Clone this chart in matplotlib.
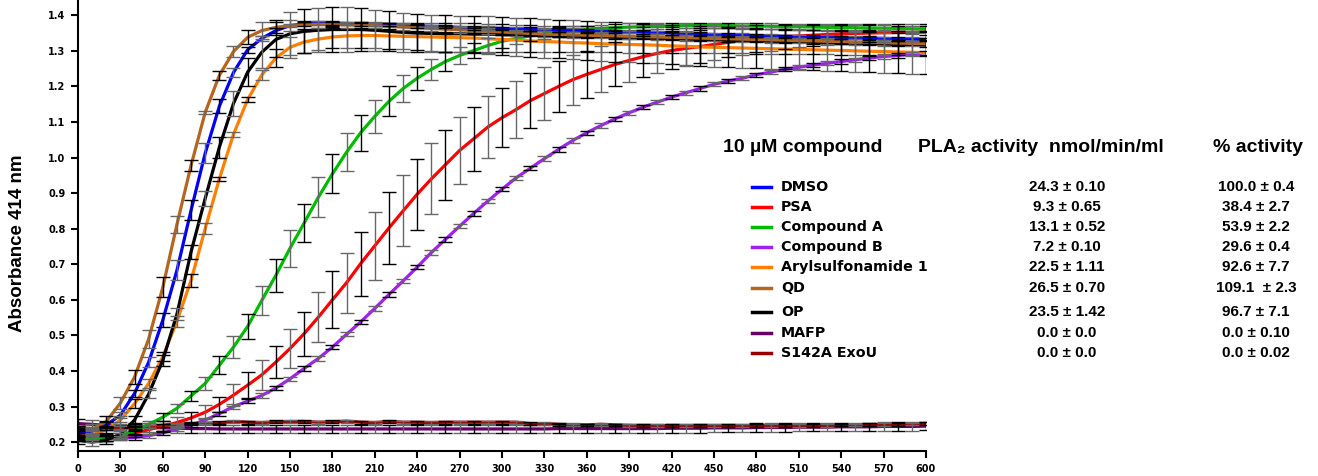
import matplotlib
matplotlib.use('Agg')
import matplotlib.pyplot as plt
from matplotlib.lines import Line2D

# Время (с) и средние значения поглощения при 414 нм
time_s = list(range(0, 601, 10))

dmso = [0.225, 0.231, 0.248, 0.276, 0.337, 0.425, 0.543, 0.683, 0.852, 1.012,
        1.144, 1.239, 1.303, 1.335, 1.357, 1.371, 1.376, 1.378, 1.378, 1.377,
        1.376, 1.375, 1.374, 1.372, 1.370, 1.369, 1.368, 1.366, 1.365, 1.364,
        1.363, 1.362, 1.361, 1.360, 1.359, 1.358, 1.357, 1.356, 1.355, 1.354,
        1.353, 1.352, 1.350, 1.349, 1.347, 1.346, 1.345, 1.344, 1.343, 1.342,
        1.341, 1.340, 1.340, 1.339, 1.338, 1.337, 1.336, 1.335, 1.334, 1.333,
        1.332]
dmso_sd = [0.008, 0.008, 0.008, 0.008, 0.010, 0.015, 0.019, 0.028, 0.028, 0.028,
           0.020, 0.012, 0.008, 0.006, 0.006] + [0.005] * 46

psa = [0.222, 0.215, 0.213, 0.215, 0.225, 0.235, 0.245, 0.255, 0.268, 0.284,
       0.306, 0.332, 0.360, 0.389, 0.425, 0.463, 0.505, 0.551, 0.600, 0.648,
       0.702, 0.752, 0.802, 0.850, 0.897, 0.940, 0.980, 1.020, 1.053, 1.086,
       1.112, 1.135, 1.160, 1.180, 1.200, 1.219, 1.234, 1.248, 1.262, 1.273,
       1.284, 1.293, 1.301, 1.307, 1.312, 1.318, 1.324, 1.329, 1.334, 1.337,
       1.340, 1.342, 1.344, 1.346, 1.348, 1.349, 1.350, 1.351, 1.352, 1.352,
       1.353]
psa_sd = [0.010, 0.010, 0.010, 0.010, 0.010, 0.012, 0.014, 0.016, 0.018, 0.020,
          0.022, 0.030, 0.036, 0.042, 0.046, 0.055, 0.062, 0.070, 0.080, 0.085,
          0.090, 0.095, 0.100, 0.100, 0.100, 0.100, 0.098, 0.095, 0.090, 0.087,
          0.083, 0.080, 0.078, 0.075, 0.072, 0.070, 0.067, 0.065, 0.062, 0.060,
          0.057, 0.055, 0.052, 0.050, 0.047, 0.045, 0.042, 0.040, 0.038, 0.036,
          0.034, 0.032, 0.030, 0.029, 0.028, 0.027, 0.026, 0.025, 0.024, 0.023,
          0.022]

comp_a = [0.210, 0.208, 0.212, 0.218, 0.232, 0.250, 0.270, 0.295, 0.330, 0.365,
          0.416, 0.467, 0.525, 0.598, 0.669, 0.745, 0.816, 0.888, 0.954, 1.015,
          1.070, 1.116, 1.158, 1.194, 1.223, 1.248, 1.270, 1.287, 1.301, 1.315,
          1.327, 1.335, 1.342, 1.348, 1.353, 1.357, 1.360, 1.363, 1.365, 1.367,
          1.368, 1.369, 1.370, 1.371, 1.371, 1.371, 1.371, 1.370, 1.370, 1.369,
          1.368, 1.368, 1.367, 1.366, 1.366, 1.365, 1.364, 1.364, 1.363, 1.362,
          1.362]
comp_a_sd = [0.008, 0.008, 0.008, 0.008, 0.010, 0.010, 0.012, 0.013, 0.015, 0.018,
             0.025, 0.030, 0.035, 0.040, 0.047, 0.052, 0.054, 0.056, 0.055, 0.054,
             0.051, 0.047, 0.042, 0.037, 0.033, 0.029, 0.026, 0.024, 0.022, 0.020,
             0.018, 0.016, 0.015, 0.014, 0.013, 0.012, 0.011, 0.010, 0.010, 0.010] + [0.008] * 21

comp_b = [0.215, 0.212, 0.210, 0.211, 0.213, 0.218, 0.226, 0.236, 0.248, 0.262,
          0.280, 0.300, 0.315, 0.331, 0.352, 0.378, 0.407, 0.435, 0.467, 0.503,
          0.538, 0.576, 0.615, 0.653, 0.692, 0.733, 0.770, 0.807, 0.843, 0.878,
          0.911, 0.943, 0.970, 0.997, 1.023, 1.048, 1.070, 1.090, 1.109, 1.126,
          1.142, 1.156, 1.170, 1.182, 1.194, 1.206, 1.215, 1.223, 1.233, 1.240,
          1.248, 1.254, 1.260, 1.265, 1.270, 1.275, 1.280, 1.284, 1.287, 1.291,
          1.295]
comp_b_sd = [0.006] * 61

aryl = [0.215, 0.220, 0.235, 0.262, 0.308, 0.365, 0.440, 0.540, 0.655, 0.800,
        0.940, 1.065, 1.163, 1.232, 1.280, 1.310, 1.325, 1.333, 1.339, 1.342,
        1.343, 1.343, 1.342, 1.341, 1.340, 1.339, 1.338, 1.337, 1.336, 1.334,
        1.332, 1.330, 1.328, 1.326, 1.325, 1.323, 1.322, 1.320, 1.319, 1.318,
        1.317, 1.316, 1.314, 1.313, 1.311, 1.310, 1.309, 1.308, 1.307, 1.306,
        1.305, 1.304, 1.303, 1.302, 1.301, 1.300, 1.299, 1.298, 1.297, 1.296,
        1.295]
aryl_sd = [0.010, 0.010, 0.010, 0.010, 0.012, 0.012, 0.012, 0.015, 0.018, 0.015,
           0.006, 0.006, 0.006, 0.015, 0.025, 0.030, 0.030, 0.030, 0.032, 0.033,
           0.034, 0.035, 0.036, 0.037, 0.038, 0.039, 0.040, 0.040, 0.041, 0.042,
           0.043, 0.044, 0.045, 0.045, 0.046, 0.047, 0.048, 0.048, 0.049, 0.050,
           0.050, 0.051, 0.052, 0.052, 0.053, 0.054, 0.054, 0.055, 0.055, 0.056,
           0.056, 0.057, 0.057, 0.058, 0.058, 0.059, 0.059, 0.060, 0.060, 0.060,
           0.060]

qd = [0.232, 0.236, 0.258, 0.310, 0.383, 0.490, 0.635, 0.812, 0.978, 1.127,
      1.231, 1.298, 1.338, 1.357, 1.366, 1.371, 1.373, 1.374, 1.374, 1.373,
      1.372, 1.371, 1.369, 1.367, 1.365, 1.363, 1.361, 1.359, 1.357, 1.355,
      1.353, 1.351, 1.349, 1.347, 1.346, 1.345, 1.344, 1.343, 1.342, 1.341,
      1.340, 1.339, 1.338, 1.337, 1.336, 1.335, 1.334, 1.333, 1.332, 1.331,
      1.330, 1.329, 1.328, 1.327, 1.326, 1.325, 1.324, 1.323, 1.322, 1.321,
      1.320]
qd_sd = [0.012, 0.015, 0.015, 0.018, 0.020, 0.025, 0.028, 0.025, 0.015, 0.005,
         0.012, 0.015, 0.020, 0.025, 0.022, 0.015, 0.012, 0.010] + [0.008] * 43

op = [0.205, 0.200, 0.206, 0.222, 0.262, 0.335, 0.430, 0.560, 0.735, 0.885,
      1.029, 1.152, 1.240, 1.296, 1.332, 1.348, 1.355, 1.358, 1.360, 1.360,
      1.360, 1.358, 1.355, 1.352, 1.350, 1.349, 1.348, 1.348, 1.347, 1.347,
      1.346, 1.345, 1.344, 1.343, 1.342, 1.341, 1.340, 1.339, 1.338, 1.337,
      1.336, 1.335, 1.334, 1.333, 1.332, 1.331, 1.330, 1.329, 1.328, 1.327,
      1.326, 1.325, 1.324, 1.323, 1.322, 1.321, 1.320, 1.319, 1.318, 1.317,
      1.316]
op_sd = [0.010, 0.010, 0.010, 0.010, 0.012, 0.012, 0.015, 0.018, 0.020, 0.020,
         0.030, 0.035, 0.040, 0.045, 0.050, 0.060, 0.062, 0.062, 0.062, 0.062,
         0.060, 0.058, 0.056, 0.055, 0.054, 0.053, 0.052, 0.051, 0.050, 0.050,
         0.049, 0.048, 0.047, 0.046, 0.045, 0.045, 0.044, 0.043, 0.042, 0.042,
         0.041, 0.040, 0.040, 0.039, 0.038, 0.038, 0.037, 0.036, 0.036, 0.035,
         0.035, 0.034, 0.034, 0.033, 0.033, 0.032, 0.032, 0.031, 0.031, 0.030,
         0.030]

mafp = [0.252, 0.250, 0.247, 0.245, 0.243, 0.241, 0.240, 0.239, 0.238, 0.238,
        0.237, 0.237, 0.237, 0.237, 0.237, 0.237, 0.237, 0.237, 0.237, 0.237,
        0.237, 0.237, 0.237, 0.237, 0.237, 0.237, 0.237, 0.237, 0.237, 0.237,
        0.237, 0.237, 0.237, 0.237, 0.238, 0.238, 0.238, 0.238, 0.238, 0.238,
        0.238, 0.238, 0.239, 0.239, 0.239, 0.240, 0.240, 0.240, 0.241, 0.241,
        0.241, 0.242, 0.242, 0.242, 0.243, 0.243, 0.243, 0.244, 0.244, 0.244,
        0.245]
mafp_sd = [0.012] * 61

s142a = [0.240, 0.238, 0.238, 0.240, 0.242, 0.244, 0.247, 0.250, 0.252, 0.253,
         0.254, 0.258, 0.256, 0.255, 0.257, 0.258, 0.258, 0.256, 0.257, 0.259,
         0.256, 0.255, 0.258, 0.256, 0.256, 0.255, 0.256, 0.256, 0.256, 0.256,
         0.256, 0.256, 0.252, 0.252, 0.250, 0.249, 0.248, 0.250, 0.248, 0.247,
         0.246, 0.246, 0.246, 0.246, 0.246, 0.246, 0.246, 0.246, 0.246, 0.246,
         0.246, 0.246, 0.247, 0.247, 0.248, 0.248, 0.249, 0.250, 0.250, 0.251,
         0.252]
s142a_sd = [0.004] * 61

labels = ['DMSO', 'PSA', 'Compound A', 'Compound B', 'Arylsulfonamide 1',
          'QD', 'OP', 'MAFP', 'S142A ExoU']
colors = ['#0000FF', '#FF0000', '#00BB00', '#A020F0', '#FF8000',
          '#B5651D', '#000000', '#660066', '#990000']
rate_txt = ['24.3 ± 0.10', '9.3 ± 0.65', '13.1 ± 0.52', '7.2 ± 0.10', '22.5 ± 1.11',
            '26.5 ± 0.70', '23.5 ± 1.42', '0.0 ± 0.0', '0.0 ± 0.0']
pct_txt = ['100.0 ± 0.4', '38.4 ± 2.7', '53.9 ± 2.2', '29.6 ± 0.4', '92.6 ± 7.7',
           '109.1  ± 2.3', '96.7 ± 7.1', '0.0 ± 0.10', '0.0 ± 0.02']

series = [(dmso, dmso_sd), (psa, psa_sd), (comp_a, comp_a_sd), (comp_b, comp_b_sd),
          (aryl, aryl_sd), (qd, qd_sd), (op, op_sd), (mafp, mafp_sd), (s142a, s142a_sd)]

W, H = 1318, 476
fig = plt.figure(figsize=(W / 100, H / 100), dpi=100)
ax = fig.add_axes([78 / W, 25 / H, 848 / W, 451 / H])

# порядок отрисовки: плоские кривые снизу, быстрые сверху
order = [7, 8, 3, 1, 2, 4, 6, 0, 5]
for i in order:
    vals, sd = series[i]
    ax.plot(time_s, vals, color=colors[i], lw=2.3, zorder=3 + order.index(i) * 0.1,
            solid_capstyle='round')
    for k, ec in enumerate(['#000000', '#666666']):
        ax.errorbar(time_s[k::2], vals[k::2], yerr=sd[k::2], fmt='none', ecolor=ec,
                    elinewidth=1.0, capsize=5, capthick=1.0, zorder=4)

ax.set_xlim(0, 600)
ax.set_ylim(0.175, 1.443)
ax.set_xticks(range(0, 601, 30))
ax.set_yticks([0.2, 0.3, 0.4, 0.5, 0.6, 0.7, 0.8, 0.9, 1.0, 1.1, 1.2, 1.3, 1.4])
ax.set_yticklabels(['%.1f' % v for v in ax.get_yticks()])
for s in ['top', 'right']:
    ax.spines[s].set_visible(False)
for s in ['left', 'bottom']:
    ax.spines[s].set_linewidth(1.5)
ax.tick_params(direction='out', length=5, width=1.5, labelsize=7, pad=4)
for lab in ax.get_xticklabels() + ax.get_yticklabels():
    lab.set_fontweight('bold')
    lab.set_family('DejaVu Sans')

fig.text(18 / W, 1 - 243 / H, 'Absorbance 414 nm', rotation=90, ha='center', va='center',
         fontsize=13.5, fontweight='bold', family=['Liberation Sans', 'DejaVu Sans'])

# таблица-легенда справа
head = dict(fontsize=14, fontweight='bold', family=['Liberation Sans', 'DejaVu Sans'], va='center')
fig.text(723 / W, 1 - 147 / H, '10 µM compound', ha='left', **head)
fig.text(918 / W, 1 - 147 / H, 'PLA₂ activity  nmol/min/ml', ha='left', **head)
fig.text(1258 / W, 1 - 147 / H, '% activity', ha='center', **head)

rows_y = [187, 207, 227, 247, 267, 288, 312, 333, 353]
for i, lab in enumerate(labels):
    yf = 1 - rows_y[i] / H
    fig.add_artist(Line2D([752 / W, 771 / W], [yf, yf], transform=fig.transFigure,
                          color=colors[i], lw=2.5))
    fig.text(781 / W, yf, lab, ha='left', va='center', fontsize=10.3, fontweight='bold',
             family='DejaVu Sans')
    fig.text(1067 / W, yf, rate_txt[i], ha='center', va='center', fontsize=11,
             fontweight='bold', family=['Liberation Sans', 'DejaVu Sans'])
    fig.text(1256 / W, yf, pct_txt[i], ha='center', va='center', fontsize=11,
             fontweight='bold', family=['Liberation Sans', 'DejaVu Sans'])

plt.savefig('out.png', dpi=100)
